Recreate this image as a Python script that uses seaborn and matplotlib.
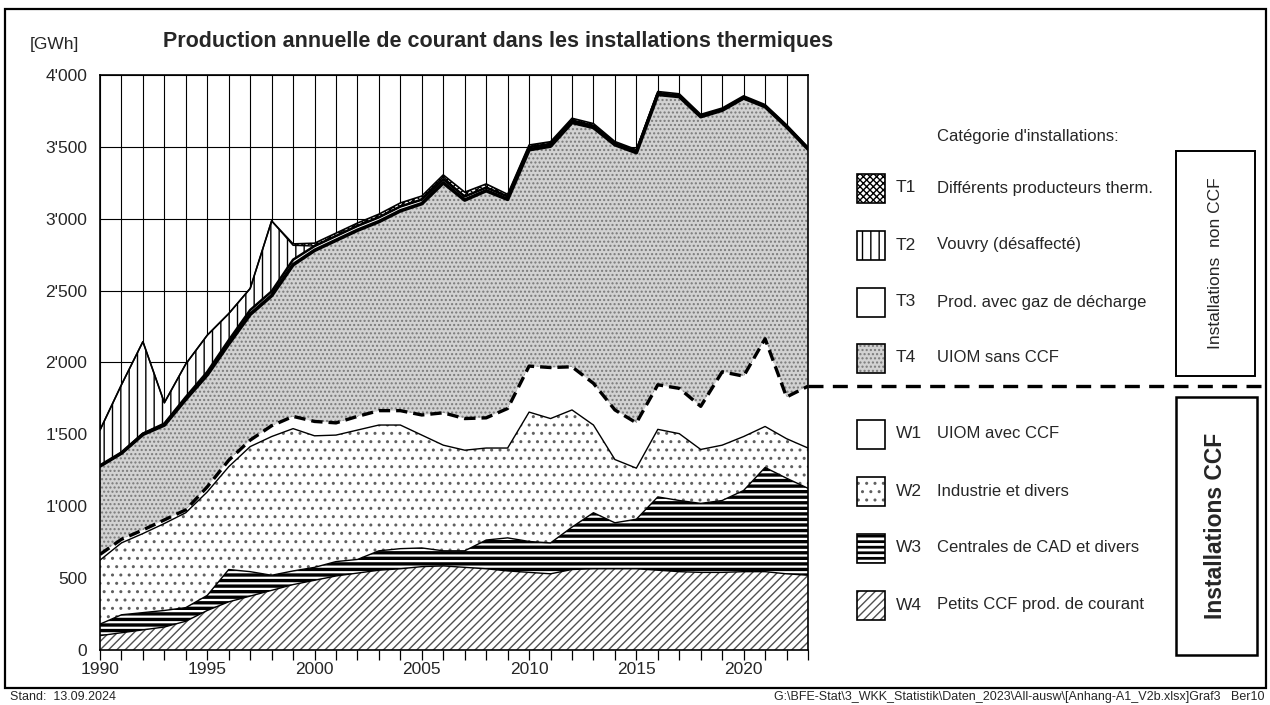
import matplotlib
matplotlib.use("Agg")
import matplotlib.pyplot as plt
import matplotlib.transforms as mtransforms
from matplotlib.patches import Rectangle
from matplotlib.ticker import FuncFormatter, MultipleLocator
import numpy as np
import seaborn as sns

years = list(range(1990, 2024))

# Installations CCF (GWh)
w4_petits_ccf = [100, 120, 140, 160, 200, 275, 335, 375, 415, 455,
                 485, 515, 535, 555, 565, 580, 585, 575, 565, 550,
                 540, 530, 560, 565, 565, 565, 555, 545, 540, 540,
                 545, 545, 530, 520]
w3_cad = [80, 125, 120, 115, 95, 105, 225, 170, 105, 95,
          90, 100, 95, 135, 140, 130, 105, 115, 200, 230,
          215, 215, 295, 390, 320, 345, 510, 495, 480, 500,
          565, 725, 665, 605]
w2_industrie = [445, 500, 550, 605, 660, 720, 715, 870, 965, 990,
                915, 880, 900, 875, 860, 785, 735, 700, 640, 625,
                900, 865, 815, 610, 440, 355, 470, 465, 375, 385,
                375, 285, 275, 280]
w1_uiom_ccf = [40, 25, 25, 25, 20, 35, 45, 45, 75, 85,
               100, 85, 95, 100, 100, 140, 225, 220, 210, 275,
               320, 355, 300, 290, 345, 315, 310, 315, 300, 510,
               420, 610, 290, 430]

# Installations non CCF (GWh)
t4_uiom_sans_ccf = [615, 600, 665, 660, 770, 780, 810, 875, 905, 1055,
                    1190, 1270, 1295, 1315, 1390, 1470, 1600, 1520, 1580, 1455,
                    1505, 1540, 1700, 1780, 1845, 1880, 2020, 2030, 2015, 1820,
                    1935, 1615, 1880, 1650]
t3_gaz_decharge = [0, 0, 5, 10, 15, 20, 25, 30, 30, 35,
                   30, 30, 30, 30, 30, 28, 25, 25, 22, 20,
                   18, 16, 14, 12, 10, 9, 8, 7, 6, 5,
                   5, 4, 4, 3]
t2_vouvry = [250, 475, 640, 145, 230, 255, 185, 150, 490, 100,
             0, 0, 0, 0, 0, 0, 0, 0, 0, 0,
             0, 0, 0, 0, 0, 0, 0, 0, 0, 0,
             0, 0, 0, 0]
t1_divers = [0, 0, 0, 0, 0, 0, 0, 0, 0, 10,
             20, 20, 20, 22, 25, 25, 30, 30, 25, 15,
             15, 15, 15, 15, 12, 12, 12, 12, 10, 10,
             10, 10, 10, 10]

codes = ["W4", "W3", "W2", "W1", "T4", "T3", "T2", "T1"]
labels = {
    "T1": "Différents producteurs therm.",
    "T2": "Vouvry (désaffecté)",
    "T3": "Prod. avec gaz de décharge",
    "T4": "UIOM sans CCF",
    "W1": "UIOM avec CCF",
    "W2": "Industrie et divers",
    "W3": "Centrales de CAD et divers",
    "W4": "Petits CCF prod. de courant",
}
# face, hatch, hatch colour, hatch linewidth
styles = {
    "W4": ("white", "////", "#505050", 1.0),
    "W3": ("white", "---", "black", 2.4),
    "W2": ("white", "..", "#606060", 1.0),
    "W1": ("white", "", "white", 1.0),
    "T4": ("#d2d2d2", "....", "#7a7a7a", 1.0),
    "T3": ("white", "", "white", 1.0),
    "T2": ("white", "||", "black", 1.0),
    "T1": ("white", "xxxxx", "black", 1.0),
}

layers = np.array([w4_petits_ccf, w3_cad, w2_industrie, w1_uiom_ccf,
                   t4_uiom_sans_ccf, t3_gaz_decharge, t2_vouvry, t1_divers])
cum = np.cumsum(layers, axis=0)
base = np.vstack([np.zeros(len(years)), cum[:-1]])

sns.set_theme(style="white")
plt.rcParams["font.family"] = ["Liberation Sans", "DejaVu Sans"]

W, H = 1270, 705
fig = plt.figure(figsize=(W / 100, H / 100), dpi=100)
ax = fig.add_axes([100 / W, 1 - 650 / H, 708 / W, 575 / H])


def hatched(artist, lw):
    if hasattr(artist, "set_hatch_linewidth"):
        artist.set_hatch_linewidth(lw)


for i, code in enumerate(codes):
    face, hatch, hcol, hlw = styles[code]
    plt.rcParams["hatch.linewidth"] = hlw
    coll = ax.fill_between(years, base[i], cum[i], facecolor=face,
                           hatch=hatch, edgecolor=hcol, linewidth=0, zorder=2)
    hatched(coll, hlw)

# boundary lines (T3 band reads as one thick line)
for i, lw in [(0, 1.0), (1, 1.0), (2, 1.0), (4, 2.6), (5, 1.8), (6, 1.0), (7, 1.2)]:
    sns.lineplot(x=years, y=cum[i], color="black", linewidth=lw, ax=ax, zorder=3)
sns.lineplot(x=years, y=cum[3], color="black", linewidth=2.4,
             linestyle=(0, (3.4, 1.8)), ax=ax, zorder=4)

ax.set_xlim(1990, 2023)
ax.set_ylim(0, 4000)
ax.set_xticks(range(1990, 2021, 5))
ax.xaxis.set_minor_locator(MultipleLocator(1))
ax.yaxis.set_major_locator(MultipleLocator(500))
ax.yaxis.set_major_formatter(FuncFormatter(lambda v, p: f"{int(v):,}".replace(",", "'")))
ax.set_axisbelow(True)
ax.grid(True, which="both", axis="x", color="black", linewidth=0.8)
ax.grid(True, which="major", axis="y", color="black", linewidth=0.8)
ax.tick_params(axis="x", which="both", direction="out", length=7, width=0.9,
               color="black", bottom=True, labelsize=12.5, pad=2)
ax.tick_params(axis="y", length=0, labelsize=12.5, pad=9)
ax.set_xlabel("")
ax.set_ylabel("")
for s in ax.spines.values():
    s.set_color("black")
    s.set_linewidth(1.2)
    s.set_zorder(5)

# dashed CCF separator continues to the frame
trans = mtransforms.blended_transform_factory(ax.transAxes, ax.transData)
ax.plot([1.0, (1266 - 100) / 708], [cum[3][-1]] * 2, transform=trans,
        color="black", linewidth=2.4, linestyle=(0, (4.5, 2.8)), clip_on=False)

# overlay in pixel coordinates for texts, legend and frame
ov = fig.add_axes([0, 0, 1, 1], zorder=10)
ov.set_xlim(0, W)
ov.set_ylim(H, 0)
ov.axis("off")

ov.add_patch(Rectangle((5, 9), 1261, 679, fill=False, edgecolor="black", linewidth=1.6))
ov.text(30, 45, "[GWh]", fontsize=12.5, va="center", ha="left")
ov.text(163, 42, "Production annuelle de courant dans les installations thermiques",
        fontsize=15.5, fontweight="bold", va="center", ha="left")
ov.text(937, 137, "Catégorie d'installations:", fontsize=12, va="center", ha="left")

rows = {"T1": 188, "T2": 245, "T3": 302, "T4": 358,
        "W1": 434, "W2": 491, "W3": 548, "W4": 605}
for code, yc in rows.items():
    face, hatch, hcol, hlw = styles[code]
    plt.rcParams["hatch.linewidth"] = hlw if code != "W3" else 2.0
    rect = Rectangle((857, yc - 14.5), 28, 29, facecolor=face, hatch=hatch,
                     edgecolor=hcol if hatch else "black", linewidth=0)
    hatched(rect, plt.rcParams["hatch.linewidth"])
    ov.add_patch(rect)
    ov.add_patch(Rectangle((857, yc - 14.5), 28, 29, fill=False,
                           edgecolor="black", linewidth=1.2))
    ov.text(896, yc, code, fontsize=12.5, va="center", ha="left")
    ov.text(937, yc, labels[code], fontsize=12, va="center", ha="left")

ov.add_patch(Rectangle((1176, 151), 79, 225, fill=False, edgecolor="black", linewidth=1.4))
ov.text(1215, 263, "Installations  non CCF", rotation=90, fontsize=12.5,
        va="center", ha="center")
ov.add_patch(Rectangle((1176, 397), 81, 258, fill=False, edgecolor="black", linewidth=1.8))
ov.text(1216, 526, "Installations CCF", rotation=90, fontsize=16.5,
        fontweight="bold", va="center", ha="center")

ov.text(10, 697, "Stand:  13.09.2024", fontsize=9, va="center", ha="left")
ov.text(1265, 697, "G:\\BFE-Stat\\3_WKK_Statistik\\Daten_2023\\All-ausw\\[Anhang-A1_V2b.xlsx]Graf3   Ber10",
        fontsize=9, va="center", ha="right")

fig.savefig("out.png", dpi=100)
